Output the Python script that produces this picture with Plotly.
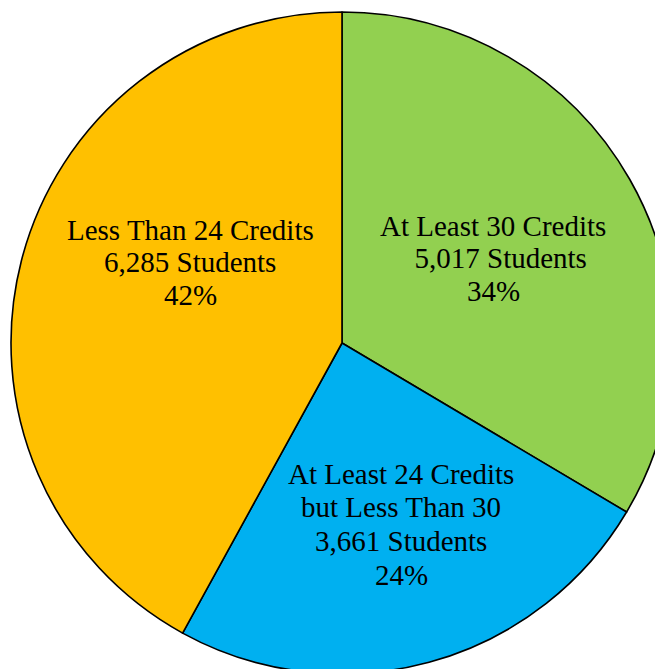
import plotly.graph_objects as go

# Data
labels = ["At Least 30 Credits", "At Least 24 Credits\nbut Less Than 30", "Less Than 24 Credits"]
students = [5017, 3661, 6285]
percents = [34, 24, 42]
colors = ["#92D050", "#00B0F0", "#FFC000"]

# Label text placement (page pixels: center x, first baseline y, line gap, indent)
label_pos = [(493, 235, 32.5, "\u00a0\u00a0"), (401, 483, 33.7, ""), (190, 239, 32.5, "")]

W, H = 667, 668
ML, MR, MT, MB = 3, 2, 4, 2
PW, PH = W - ML - MR, H - MT - MB
OFF = 8  # page body margin
FS = 29


def to_paper(px, py):
    return (px - OFF - ML) / PW, 1 - (py - OFF - MT) / PH


fig = go.Figure(go.Pie(
    labels=[l.replace("\n", " ") for l in labels],
    values=students,
    sort=False,
    direction="clockwise",
    rotation=0,
    marker=dict(colors=colors, line=dict(color="black", width=1.6)),
    textinfo="none",
    hoverinfo="label+value+percent",
    showlegend=False,
))

annotations = []
for lab, n, p, (cx, by, gap, ind) in zip(labels, students, percents, label_pos):
    lines = lab.split("\n") + [f"{ind}{n:,} Students", f"{p}%"]
    for i, t in enumerate(lines):
        x, y = to_paper(cx, by + i * gap - 9.5)
        annotations.append(dict(
            x=x, y=y, xref="paper", yref="paper", text=t, showarrow=False,
            xanchor="center", yanchor="middle",
            font=dict(family="Liberation Serif", size=FS, color="black"),
        ))

fig.update_layout(
    width=W, height=H,
    margin=dict(l=ML, r=MR, t=MT, b=MB),
    paper_bgcolor="white", plot_bgcolor="white",
    annotations=annotations,
)

fig.write_html("out.html")
